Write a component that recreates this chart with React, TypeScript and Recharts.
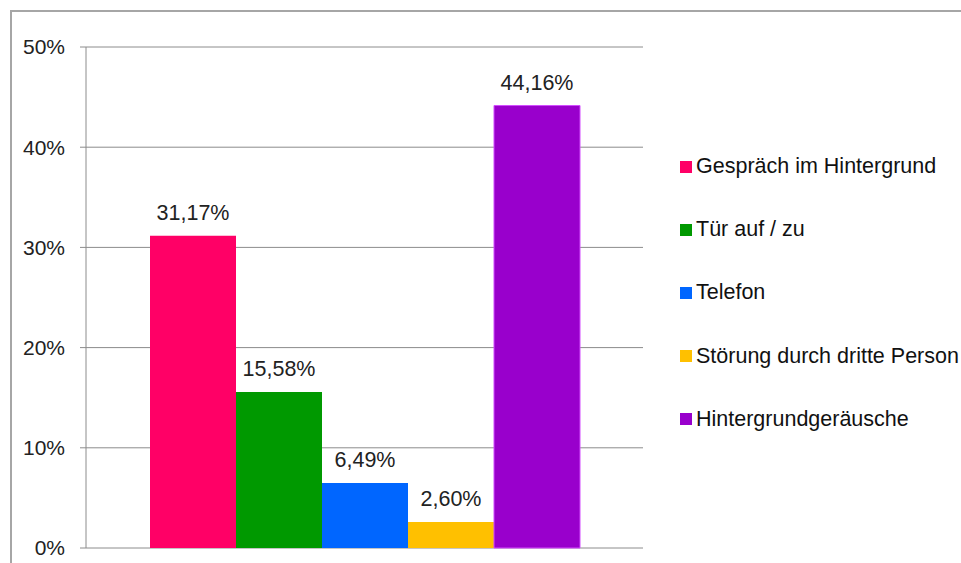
import React from 'react';
import { Bar, BarChart, CartesianGrid, LabelList, XAxis, YAxis } from 'recharts';

const categories = [''];
const seriesNames = [
  'Gespräch im Hintergrund',
  'Tür auf / zu',
  'Telefon',
  'Störung durch dritte Person',
  'Hintergrundgeräusche'
];
const seriesValues = [31.17, 15.58, 6.49, 2.6, 44.16];
const seriesColors = ['#ff0066', '#009900', '#0066ff', '#ffc000', '#9900cc'];
const yTicks = [0, 10, 20, 30, 40, 50];

const data = categories.map((name) => {
  const row: Record<string, string | number> = { name };
  seriesNames.forEach((s, i) => {
    row[s] = seriesValues[i];
  });
  return row;
});

const font = '"Liberation Sans", Arial, sans-serif';
const pct = (v: number) => `${v.toFixed(2).replace('.', ',')}%`;

export default function App() {
  return (
    <div
      style={{
        position: 'fixed',
        left: 0,
        top: 0,
        width: 961,
        height: 563,
        background: '#fff',
        overflow: 'hidden',
        fontFamily: font
      }}
    >
      <div
        style={{
          position: 'absolute',
          left: 10,
          top: 10,
          width: 951,
          height: 553,
          borderTop: '2px solid #a6a6a6',
          borderLeft: '2px solid #a6a6a6',
          boxSizing: 'border-box'
        }}
      />
      <div style={{ position: 'absolute', left: 0, top: 0 }}>
        <BarChart
          width={662}
          height={563}
          data={data}
          margin={{ top: 47, right: 19, left: 0, bottom: 15 }}
          barCategoryGap={64}
          barGap={0}
        >
          <CartesianGrid stroke="#8c8c8c" vertical={false} />
          <XAxis dataKey="name" hide />
          <YAxis
            width={86}
            domain={[0, 50]}
            ticks={yTicks}
            interval={0}
            tickFormatter={(v: number) => `${v}%`}
            tick={{ fill: '#222', fontSize: 21, fontFamily: font }}
            axisLine={{ stroke: '#8c8c8c' }}
            tickLine={{ stroke: '#8c8c8c' }}
            tickSize={6}
            tickMargin={15}
          />
          {seriesNames.map((s, i) => (
            <Bar
              key={s}
              dataKey={s}
              fill={seriesColors[i]}
              stroke={i === 4 ? '#d34dff' : undefined}
              strokeWidth={i === 4 ? 1 : 0}
              isAnimationActive={false}
            >
              <LabelList
                dataKey={s}
                position="top"
                offset={16}
                formatter={(v: number) => pct(v)}
                style={{ fill: '#222', fontSize: 21.5, fontFamily: font }}
              />
            </Bar>
          ))}
        </BarChart>
      </div>
      <div style={{ position: 'absolute', left: 680, top: 135 }}>
        {seriesNames.map((s, i) => (
          <div key={s} style={{ display: 'flex', alignItems: 'center', height: 63.2 }}>
            <span
              style={{
                display: 'inline-block',
                width: 12,
                height: 12,
                background: seriesColors[i],
                marginRight: 4
              }}
            />
            <span style={{ fontSize: 21.5, color: '#111', whiteSpace: 'nowrap' }}>{s}</span>
          </div>
        ))}
      </div>
    </div>
  );
}
